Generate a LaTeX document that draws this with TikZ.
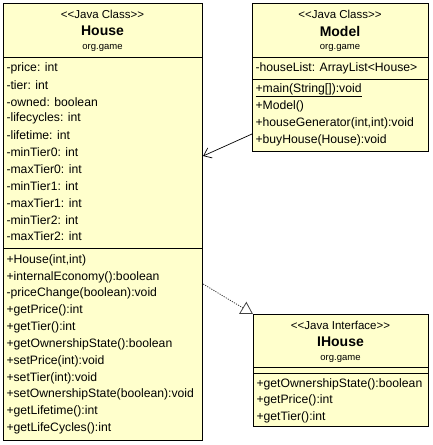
\documentclass[tikz,border=0pt]{standalone}
\usepackage{fontspec}
\setmainfont{Liberation Sans}
\usetikzlibrary{arrows.meta,calc}
\definecolor{umlfill}{HTML}{FFFFCC}
\newcommand{\stereotxt}[1]{<\kern0pt<#1>\kern0pt>}
\tikzset{
  umlbox/.style={draw=black, fill=umlfill, line width=1.1pt, anchor=north west, inner sep=0pt},
  sepline/.style={line width=1pt},
  member/.style={anchor=west, inner sep=0pt, font=\fontsize{12.2}{12.2}\selectfont},
  stereo/.style={anchor=center, inner sep=0pt, font=\fontsize{11.5}{11.5}\selectfont},
  cname/.style={anchor=center, inner sep=0pt, font=\fontsize{14}{14}\selectfont\bfseries},
  pkg/.style={anchor=center, inner sep=0pt, font=\fontsize{9.5}{9.5}\selectfont},
  assoc/.style={line width=0.7pt, -{Straight Barb[length=7pt,width=11pt,line width=0.7pt]}},
  realize/.style={line width=0.8pt, dash pattern=on 1.2pt off 1.2pt, draw=black!75,
    -{Triangle[open,length=12pt,width=14pt,line width=0.8pt,fill=white]}}
}
\begin{document}
\begin{tikzpicture}[x=1pt,y=-1pt]
\useasboundingbox (0,0) rectangle (433,445);
% House
\node[umlbox, minimum width=199pt, minimum height=437pt] (house) at (3,3) {};
\draw[sepline] (3,57) -- (202,57);
\draw[sepline] (3,248) -- (202,248);
\node[stereo] (hs) at (102.5,14) {\stereotxt{Java Class}};
\node[cname] (hn) at (102.5,31) {House};
\node[pkg] (hp) at (102.5,48) {org.game};
\foreach \t [count=\i from 0] in {-price: int,-tier: int,-owned: boolean,-lifecycles: int,-lifetime: int,-minTier0: int,-maxTier0: int,-minTier1: int,-maxTier1: int,-minTier2: int,-maxTier2: int}
  \node[member] (ha\i) at (6.3,{68+16.85*\i}) {\t};
\foreach \t [count=\i from 0] in {+House(int{,}int),+internalEconomy():boolean,-priceChange(boolean):void,+getPrice():int,+getTier():int,+getOwnershipState():boolean,+setPrice(int):void,+setTier(int):void,+setOwnershipState(boolean):void,+getLifetime():int,+getLifeCycles():int}
  \node[member] (hm\i) at (6.3,{260+16.85*\i}) {\t};
% Model
\node[umlbox, minimum width=176pt, minimum height=148pt] (model) at (252,3) {};
\draw[sepline] (252,57) -- (428,57);
\draw[sepline] (252,79) -- (428,79);
\node[stereo] (ms) at (340,14) {\stereotxt{Java Class}};
\node[cname] (mn) at (340,31) {Model};
\node[pkg] (mp) at (340,48) {org.game};
\node[member] (ma0) at (255.3,68) {-houseList: ArrayList<House>};
\node[member] (mm0) at (255.3,90) {\underline{+main(String[]):void}};
\node[member] (mm1) at (255.3,106.8) {+Model()};
\node[member] (mm2) at (255.3,123.6) {+houseGenerator(int,int):void};
\node[member] (mm3) at (255.3,140.4) {+buyHouse(House):void};
% IHouse
\node[umlbox, minimum width=175pt, minimum height=112pt] (ihouse) at (253,314) {};
\draw[sepline] (253,367) -- (428,367);
\draw[sepline] (253,373) -- (428,373);
\node[stereo] (is) at (340.5,325) {\stereotxt{Java Interface}};
\node[cname] (in) at (340.5,342) {IHouse};
\node[pkg] (ip) at (340.5,359) {org.game};
\node[member] (im0) at (256.3,384) {+getOwnershipState():boolean};
\node[member] (im1) at (256.3,400.8) {+getPrice():int};
\node[member] (im2) at (256.3,417.6) {+getTier():int};
% connectors
\draw[assoc] ($(model.north west)+(0,131)$) -- ($(house.north east)+(0,153)$);
\draw[realize] ($(house.north east)+(0,281)$) -- (ihouse.north west);
\end{tikzpicture}
\end{document}
